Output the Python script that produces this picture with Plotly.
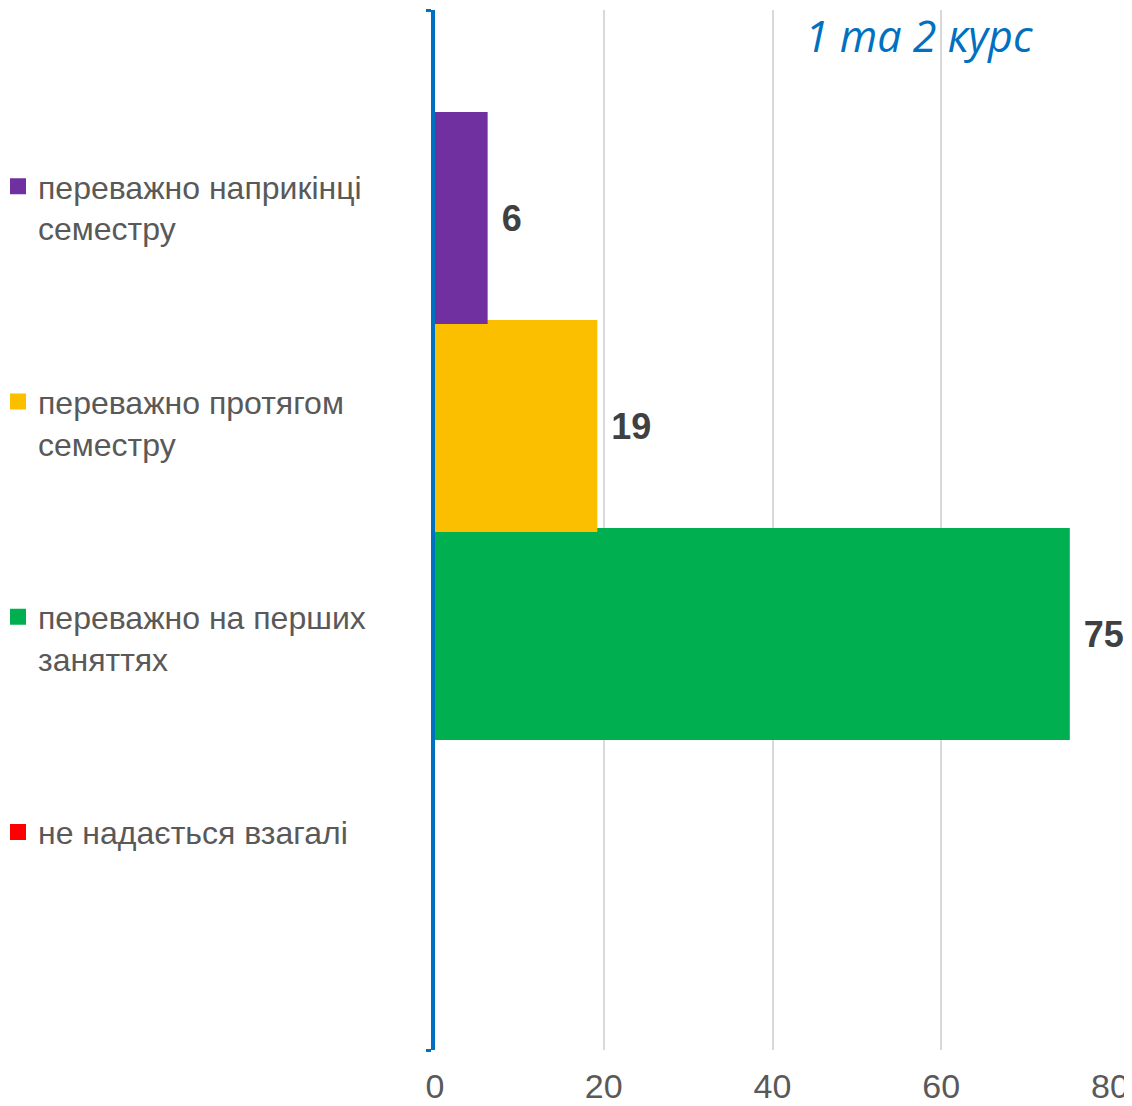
import plotly.graph_objects as go

# Data (legend order top to bottom)
categories = ["переважно наприкінці<br>семестру",
              "переважно протягом<br>семестру",
              "переважно на перших<br>заняттях",
              "не надається взагалі"]
values = [6, 19, 75, 0]
colors = ["#7030A0", "#FBBF00", "#00B050", "#FF0000"]
tick_vals = [0, 20, 40, 60, 80]
title_text = "1 та 2 курс"

fig = go.Figure()
# add in reverse so the first category sits at the top of the group
for i in reversed(range(len(categories))):
    v = values[i]
    fig.add_trace(go.Bar(
        y=[0], x=[v if v else None], orientation="h",
        name=categories[i],
        legendgroup=f"g{i}",
        legendrank=i + 1,
        marker=dict(color=colors[i], line=dict(color=colors[i], width=4)),
        text=["\u00a0\u200a" + str(v) if v else ""],
        textposition="outside",
        cliponaxis=False,
        constraintext="none",
        textfont=dict(family="Liberation Sans, Arial", size=36, color="#404040", weight="bold"),
        hoverinfo="x+name",
    ))

fig.add_annotation(
    text=title_text, xref="paper", yref="paper", x=0.717, y=0.9755,
    xanchor="center", yanchor="middle", showarrow=False,
    font=dict(family="Open Sans", size=43, color="#0070C0", style="italic"),
)

fig.update_layout(
    width=1124, height=1098,
    margin=dict(l=427, r=22, t=2, b=56, autoexpand=False),
    paper_bgcolor="white", plot_bgcolor="white",
    barmode="group", bargap=0.2, bargroupgap=0,
    showlegend=True,
    legend=dict(
        x=-0.6474, xanchor="left", y=0.8567, yanchor="top",
        traceorder="grouped", tracegroupgap=129,
        valign="top",
        font=dict(family="Liberation Sans, Arial", size=32, color="#595959"),
        bgcolor="rgba(0,0,0,0)",
    ),
    xaxis=dict(
        range=[0, 80], tickvals=tick_vals, showgrid=True,
        gridcolor="#D9D9D9", gridwidth=2, zeroline=False, showline=False,
        tickfont=dict(family="Liberation Sans, Arial", size=34, color="#595959"),
        ticklabelstandoff=13, fixedrange=True,
    ),
    yaxis=dict(
        range=[-0.5, 0.5], tickvals=[-0.5, 0.5], showticklabels=False,
        ticks="outside", ticklen=5, tickwidth=3, tickcolor="#0070C0",
        showline=True, linecolor="#0070C0", linewidth=4,
        showgrid=False, zeroline=False, fixedrange=True,
    ),
)

fig.write_html("out.html")
